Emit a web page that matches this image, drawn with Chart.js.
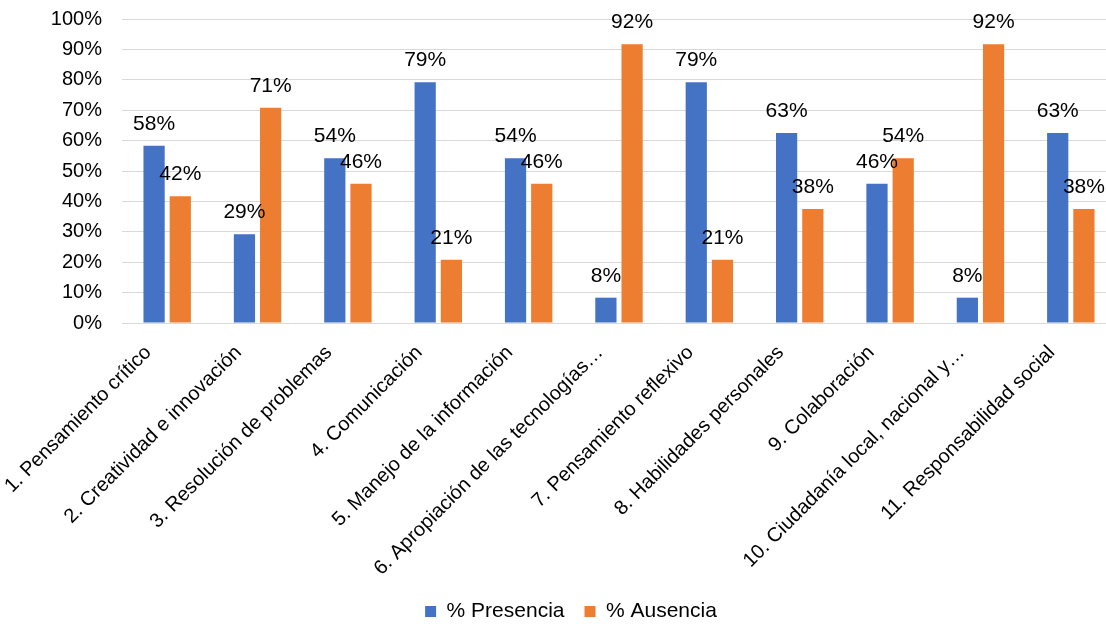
<!DOCTYPE html>
<html>
<head>
<meta charset="utf-8">
<script src="https://cdn.jsdelivr.net/npm/chart.js@4"></script>
<style>
  html, body { margin: 0; padding: 0; background: #fff; overflow: hidden; }
  #wrap { position: relative; top: -13px; width: 1116px; height: 637px; }
</style>
</head>
<body>
<div id="wrap"><canvas id="chart"></canvas></div>
<script>
const categories = [
    '1. Pensamiento crítico',
    '2. Creatividad e innovación',
    '3. Resolución de problemas',
    '4. Comunicación',
    '5. Manejo de la información',
    '6. Apropiación de las tecnologías…',
    '7. Pensamiento reflexivo',
    '8. Habilidades personales',
    '9. Colaboración',
    '10. Ciudadanía local, nacional y…',
    '11. Responsabilidad social'
];
const presencia = [58.33, 29.17, 54.17, 79.17, 54.17, 8.33, 79.17, 62.5, 45.83, 8.33, 62.5];
const ausencia = [41.67, 70.83, 45.83, 20.83, 45.83, 91.67, 20.83, 37.5, 54.17, 91.67, 37.5];
const yTicks = [0, 10, 20, 30, 40, 50, 60, 70, 80, 90, 100];

const FONT = 'Liberation Sans, Arial, sans-serif';

// draws the % value above each bar
const valueLabels = {
    id: 'valueLabels',
    afterDatasetsDraw(chart) {
        const ctx = chart.ctx;
        ctx.save();
        ctx.font = '21px ' + FONT;
        ctx.fillStyle = '#000';
        ctx.textAlign = 'center';
        ctx.textBaseline = 'alphabetic';
        chart.data.datasets.forEach((ds, i) => {
            chart.getDatasetMeta(i).data.forEach((bar, j) => {
                ctx.fillText(Math.round(ds.data[j]) + '%', bar.x, bar.y - 16);
            });
        });
        ctx.restore();
    }
};

// legend sits a bit right of centre in the original
const legendShift = {
    id: 'legendShift',
    afterLayout(chart) {
        chart.legend.left += 13;
        chart.legend.right += 13;
    }
};

new Chart(document.getElementById('chart'), {
    type: 'bar',
    data: {
        labels: categories,
        datasets: [
            { label: '% Presencia', data: presencia, backgroundColor: '#4472C4' },
            { label: '% Ausencia', data: ausencia, backgroundColor: '#ED7D31' }
        ]
    },
    options: {
        responsive: true,
        maintainAspectRatio: false,
        animation: false,
        layout: { padding: { top: 0, left: 0, right: 0, bottom: -8 } },
        datasets: { bar: { categoryPercentage: 0.58, barPercentage: 0.81 } },
        scales: {
            x: {
                grid: { display: false },
                border: { color: '#D9D9D9' },
                ticks: {
                    color: '#000',
                    font: { family: FONT, size: 20 },
                    minRotation: 45,
                    maxRotation: 45,
                    autoSkip: false,
                    padding: 10,
                    labelOffset: -19
                },
                afterFit(scale) { scale.height = 258; }
            },
            y: {
                min: 0,
                max: 100,
                afterBuildTicks(scale) { scale.ticks = yTicks.map(v => ({ value: v })); },
                grid: { color: '#D9D9D9', drawTicks: false },
                border: { display: false },
                ticks: {
                    color: '#000',
                    font: { family: FONT, size: 20 },
                    padding: 20,
                    callback: v => v + '%'
                },
                afterFit(scale) { scale.width = 122; }
            }
        },
        plugins: {
            legend: {
                position: 'bottom',
                labels: {
                    color: '#000',
                    font: { family: FONT, size: 21 },
                    boxWidth: 11,
                    boxHeight: 11,
                    padding: 20
                }
            },
            tooltip: { enabled: false }
        }
    },
    plugins: [valueLabels, legendShift]
});
</script>
</body>
</html>
